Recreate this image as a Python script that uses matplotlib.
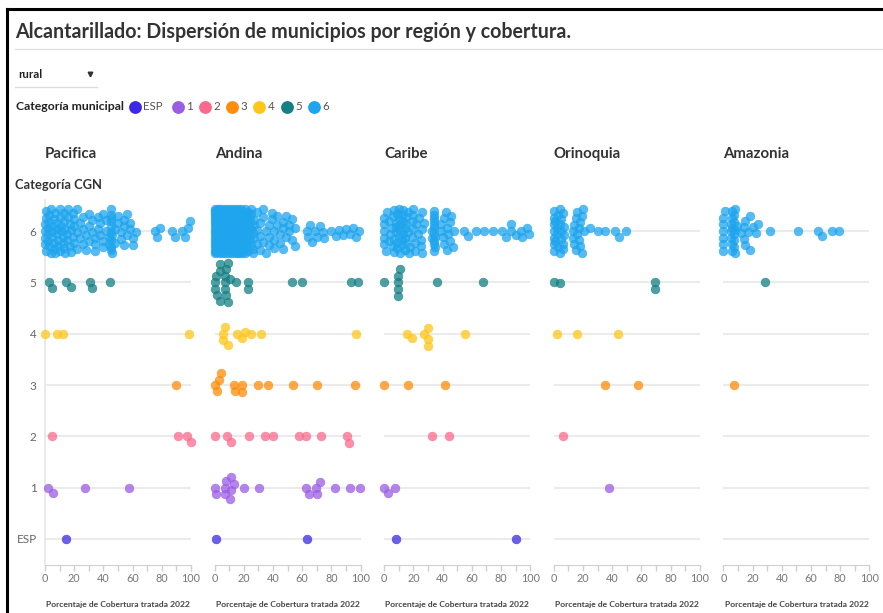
import numpy as np
import matplotlib.pyplot as plt
from matplotlib.lines import Line2D

plt.rcParams['font.family'] = ['Lato', 'DejaVu Sans']

W, H = 883, 613

regiones = ['Pacifica', 'Andina', 'Caribe', 'Orinoquia', 'Amazonia']
categorias = ['ESP', '1', '2', '3', '4', '5', '6']
colores = ['#3c28e6', '#9b5de5', '#fb6a8d', '#ff8c0a', '#ffc61a', '#147f84', '#1ea5ee']
xticks = list(range(0, 101, 10))

# categoria 6 (muchos municipios): valores y cuantos municipios hay en cada uno
pac6_vals = [0, 1, 2, 3, 4, 5, 6, 7, 8, 9, 10, 11, 12, 13, 14, 15, 16, 17, 18, 19, 20,
             22, 24, 26, 28, 30, 32, 34, 36, 38, 40, 42, 44, 45, 46,
             48, 50, 52, 54, 56, 58, 60, 62,
             75, 77, 79, 87, 89, 94, 96, 98, 99]
pac6_counts = [4, 3, 3, 3, 2, 3, 3, 2, 3, 2, 3, 2, 2, 3, 2, 2, 2, 2, 2, 2, 3,
               3, 2, 3, 2, 3, 2, 3, 2, 2, 3, 2, 2, 9, 2,
               2, 2, 2, 3, 2, 2, 2, 1,
               1, 1, 1, 1, 1, 1, 1, 1, 1]

and6_vals = [0, 1, 2, 3, 4, 5, 6, 7, 8, 9, 10, 11, 12, 13, 14, 15, 16, 17, 18, 19, 20,
             21, 22, 23, 24, 25, 26, 27,
             29, 31, 33, 35, 37, 39, 41, 43, 45, 47, 49, 51, 53, 55,
             63, 64, 65, 67, 69, 70, 72, 74, 75, 80, 83, 85, 88, 90, 93, 95, 97, 99]
and6_counts = [16, 14, 14, 14, 14, 14, 14, 14, 14, 14, 14, 14, 14, 14, 14, 12, 12, 12, 10, 10, 9,
               5, 5, 4, 4, 4, 3, 3,
               3, 3, 3, 2, 3, 2, 3, 2, 2, 3, 2, 2, 2, 2,
               1, 1, 1, 1, 1, 1, 1, 1, 1, 1, 1, 1, 1, 1, 1, 1, 1, 1]

car6_vals = [0, 1, 2, 3, 4, 5, 6, 7, 8, 9, 10, 11, 12, 13, 14, 15, 16, 17, 18, 19, 20,
             21, 22, 23, 24, 25, 26, 27, 33, 34, 35,
             39, 40, 41, 42, 43, 44, 45, 46, 47, 48,
             54.8, 57.7, 62.8, 68.5, 74.2, 81, 83.3, 86.8, 90.2, 93.6, 94.7, 97.7, 99.3]
car6_counts = [5, 1, 1, 2, 1, 1, 2, 3, 3, 3, 3, 3, 3, 3, 3, 3, 2, 1, 1, 2, 3,
               2, 1, 1, 1, 2, 3, 1, 2, 10, 2,
               2, 1, 2, 1, 2, 1, 2, 1, 1, 1,
               1, 1, 1, 1, 1, 1, 1, 2, 1, 1, 1, 1, 1]

ori6_vals = [0, 1, 2, 3, 4, 5, 6, 7, 13, 14, 15, 16, 17, 18, 19, 20, 21, 25,
             30.3, 35.4, 42.2, 44.5, 49.5]
ori6_counts = [7, 2, 2, 2, 3, 3, 3, 2, 2, 2, 2, 2, 2, 2, 2, 1, 1, 1,
               1, 1, 1, 1, 1]

ama6_vals = [0, 1, 5, 6, 7, 8, 9, 12, 14, 15, 17, 18, 20, 22, 24,
             31.8, 51.2, 64.9, 67.6, 74.5, 79.3]
ama6_counts = [6, 1, 3, 5, 5, 3, 1, 1, 2, 2, 1, 2, 1, 1, 1,
               1, 1, 1, 1, 1, 1]

# categorias ESP..5 por region
pacifica = [[14.4],
            [2.3, 5.3, 27.6, 57.7],
            [5, 91.3, 97.5, 99.8],
            [90],
            [0, 8, 12.5, 98.8],
            [2.5, 4.5, 14.5, 18, 30.5, 32.5, 44.3]]
andina = [[1.1, 63.2],
          [1.1, 0, 8, 11, 6.8, 11.4, 7.3, 13.2, 10.3, 20, 30.1, 62.3, 64.4, 70.3, 72, 69.2, 82.7, 92.5, 99.8],
          [0, 8.7, 11.4, 23.3, 34.7, 39.9, 57.8, 62.8, 73, 90.6, 92],
          [2.7, 0, 4.1, 1.8, 13.2, 14.2, 18.7, 19, 29.7, 36.5, 53.6, 70.3, 96],
          [5.5, 6, 7, 9, 15.5, 19, 20.5, 25, 31.5, 97],
          [10.3, 7.3, 1.8, 9.1, 3.4, 7.3, 0, 3.4, 9.1, 0, 3.4, 8, 0.7, 8, 7.3, 14.8, 22.8, 22.8, 53.2, 60.1, 93.2, 98.2]]
caribe = [[8, 90.6],
          [0, 2.3, 7.5],
          [32.7, 44.5],
          [0, 16.6, 41.8],
          [15.5, 19, 27.5, 29.7, 29.7, 29.7, 55],
          [0, 9.5, 9.5, 9.5, 9.5, 10.5, 36, 68]]
orinoquia = [[],
             [38],
             [6],
             [35.3, 57.9],
             [2.2, 15.6, 44.2],
             [0, 4.5, 69.5, 69.5]]
amazonia = [[],
            [],
            [],
            [7.4],
            [],
            [28.4]]

datos = [pacifica + [np.repeat(pac6_vals, pac6_counts)],
         andina + [np.repeat(and6_vals, and6_counts)],
         caribe + [np.repeat(car6_vals, car6_counts)],
         orinoquia + [np.repeat(ori6_vals, ori6_counts)],
         amazonia + [np.repeat(ama6_vals, ama6_counts)]]


def swarm(xs, dist, lim):
    # desplazamiento vertical (en px) de cada punto para que no se tapen;
    # si no cabe dentro de la banda, se pone en el hueco mas grande
    xs = np.asarray(xs, dtype=float)
    order = np.argsort(xs, kind='stable')
    ys = np.zeros(len(xs))
    px, py = np.zeros(0), np.zeros(0)
    grid = np.linspace(-lim, lim, 45)
    for i in order:
        x = xs[i]
        m = np.abs(px - x) < dist
        nx, ny = px[m], py[m]
        y = 0.0
        if len(nx):
            h = np.sqrt(dist**2 - (nx - x)**2)
            cands = np.concatenate([[0.0], ny + h, ny - h])
            cands = cands[np.abs(cands) <= lim]
            cands = cands[np.argsort(np.abs(cands), kind='stable')]
            ok = np.zeros(len(cands), dtype=bool)
            if len(cands):
                d2 = (nx[None, :] - x)**2 + (ny[None, :] - cands[:, None])**2
                ok = np.all(d2 >= dist**2 - 1e-6, axis=1)
            if ok.any():
                y = cands[np.argmax(ok)]
            else:
                m2 = np.abs(px - x) < 2 * dist
                gx, gy = px[m2], py[m2]
                d2 = (gx[None, :] - x)**2 + (gy[None, :] - grid[:, None])**2
                score = d2.min(axis=1) - 1e-3 * np.abs(grid)
                y = grid[np.argmax(score)]
        ys[i] = y
        px = np.append(px, x)
        py = np.append(py, y)
    return ys


fig = plt.figure(figsize=(W / 100, H / 100), dpi=100)


def ftext(x, y, s, **kw):
    fig.text(x / W, 1 - y / H, s, **kw)


def fline(xs, ys, **kw):
    fig.add_artist(Line2D([x / W for x in xs], [1 - y / H for y in ys], **kw))


# marco y cabecera
fline([7.5, 7.5], [9, H], color='black', lw=2.2)
fline([6.5, W], [9, 9], color='black', lw=2.2)
ftext(15, 32, 'Alcantarillado: Dispersión de municipios por región y cobertura.',
      fontsize=14.1, fontweight='bold', color='#333333', va='center')
fline([15, W], [49, 49], color='#e3e3e3', lw=1)
ftext(18, 75, 'rural', fontsize=8.3, fontweight='bold', color='#222222', va='center')
fline([90], [74], marker='v', ms=3.3, color='#333333', lw=0)
fline([15, 97], [87, 87], color='#dddddd', lw=1)

ftext(16, 107, 'Categoría municipal', fontsize=8.8, fontweight='bold', color='#222222', va='center')
leg_x = [135, 178, 205, 232, 259, 287, 314]
for lx, cat, col in zip(leg_x, categorias, colores):
    fline([lx], [107], marker='o', ms=8.2, color=col, lw=0)
    ftext(lx + 8.5, 107, cat, fontsize=8.3, color='#555555', va='center')

ftext(15, 185, 'Categoría CGN', fontsize=9.3, fontweight='bold', color='#333333', va='center')

# paneles
sp = 51.33
ylo, yhi = -0.5, 6.6
top_px = 231 - (yhi - 6) * sp
bot_px = 539 - ylo * sp
dist, lim = 6.6, 22

for i, (reg, series) in enumerate(zip(regiones, datos)):
    left = 45 + 169.6 * i
    ax = fig.add_axes([left / W, 1 - bot_px / H, 146 / W, (bot_px - top_px) / H])
    ax.set_xlim(0, 100)
    ax.set_ylim(ylo, yhi)
    xscale = 146 / 100
    for k, vals in enumerate(series):
        if len(vals) == 0:
            continue
        vals = np.asarray(vals, dtype=float)
        dy = swarm(vals * xscale, dist, lim)
        ax.scatter(vals, k - dy / sp, s=40, color=colores[k], alpha=0.75,
                   edgecolors=colores[k], linewidths=0.4, clip_on=False, zorder=3)

    ax.set_yticks(range(7))
    ax.grid(axis='y', color='#ebebeb', lw=1.5)
    ax.set_axisbelow(True)
    ax.set_xticks(xticks)
    ax.set_xticklabels([str(t) if t % 20 == 0 else '' for t in xticks],
                       fontsize=7.8, color='#777777')
    ax.tick_params(axis='x', length=4, width=1, color='#d0d0d0', pad=2)
    ax.tick_params(axis='y', length=0, pad=6, labelsize=8.5, labelcolor='#666666')
    if i == 0:
        ax.set_yticklabels(categorias)
    else:
        ax.set_yticklabels([])
    for s in ['top', 'right']:
        ax.spines[s].set_visible(False)
    ax.spines['bottom'].set_color('#d0d0d0')
    if i == 0:
        ax.spines['left'].set_color('#e6e6e6')
        ax.spines['left'].set_linewidth(1.2)
    else:
        ax.spines['left'].set_visible(False)

    ax.text(0, (bot_px - 154) / (bot_px - top_px), reg, transform=ax.transAxes,
            fontsize=10.8, fontweight='bold', color='#333333', ha='left', va='center')
    ax.set_xlabel('Porcentaje de Cobertura tratada 2022', fontsize=6.1,
                  fontweight='bold', color='#444444')
    ax.xaxis.set_label_coords(0.5, -(604 - bot_px) / (bot_px - top_px))
    ax.xaxis.label.set_va('center')

fig.savefig('out.png', dpi=100)
